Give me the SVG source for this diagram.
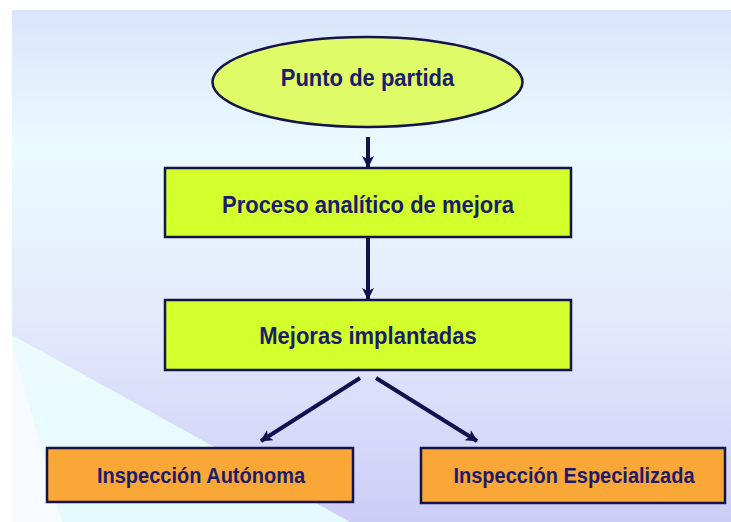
<svg xmlns="http://www.w3.org/2000/svg" width="731" height="522" viewBox="0 0 731 522">
<defs>
<linearGradient id="bg" x1="0" y1="10" x2="0" y2="522" gradientUnits="userSpaceOnUse">
<stop offset="0" stop-color="#dae4fb"/>
<stop offset="0.27" stop-color="#eafbfe"/>
<stop offset="0.6" stop-color="#e3eafc"/>
<stop offset="1" stop-color="#cccdf6"/>
</linearGradient>
<linearGradient id="tri" x1="0" y1="335" x2="0" y2="522" gradientUnits="userSpaceOnUse">
<stop offset="0" stop-color="#ecfbfe"/>
<stop offset="1" stop-color="#e4fafd"/>
</linearGradient>
<marker id="ah" markerUnits="userSpaceOnUse" markerWidth="14" markerHeight="14" refX="11" refY="6" orient="auto">
<path d="M0,0 L12,6 L0,12 L3,6 Z" fill="#11114d"/>
</marker>
<style>
.lbl{font-family:"Liberation Sans",Arial,sans-serif;font-weight:bold;fill:#1c1c6a;text-anchor:middle}
.big{font-size:22px}
.small{font-size:20px}
.green{fill:#d3ff2c;stroke:#14144a;stroke-width:2.5}
.orange{fill:#f9a737;stroke:#14144a;stroke-width:2.5}
.conn{stroke:#11114d;stroke-width:4;fill:none}
</style>
</defs>
<rect x="0" y="0" width="731" height="522" fill="#ffffff"/>
<rect x="12" y="10" width="719" height="512" fill="url(#bg)"/>
<polygon points="12,335 350,522 12,522" fill="url(#tri)"/>
<polygon points="12,345 62,522 12,522" fill="#f7fbff"/>
<g id="connectors">
<line class="conn" x1="368" y1="137" x2="368" y2="167" marker-end="url(#ah)"/>
<line class="conn" x1="368" y1="238" x2="368" y2="299" marker-end="url(#ah)"/>
<line class="conn" x1="360" y1="378" x2="261" y2="441" marker-end="url(#ah)"/>
<line class="conn" x1="376" y1="378" x2="477" y2="441" marker-end="url(#ah)"/>
</g>
<g id="node-punto">
<ellipse cx="367.5" cy="82" rx="155" ry="45" fill="#dffb68" stroke="#14144a" stroke-width="2.5"/>
<text class="lbl big" transform="translate(367.5,86) scale(1,1.1)">Punto de partida</text>
</g>
<g id="node-proceso">
<rect class="green" x="165" y="168" width="406" height="69"/>
<text class="lbl big" transform="translate(368,213) scale(1,1.1)">Proceso analítico de mejora</text>
</g>
<g id="node-mejoras">
<rect class="green" x="165" y="300" width="406" height="70"/>
<text class="lbl big" transform="translate(368,344) scale(1,1.1)">Mejoras implantadas</text>
</g>
<g id="node-autonoma">
<rect class="orange" x="47" y="448" width="306" height="54"/>
<text class="lbl small" transform="translate(201,483) scale(1,1.1)">Inspección Autónoma</text>
</g>
<g id="node-especializada">
<rect class="orange" x="421" y="448" width="304" height="55"/>
<text class="lbl small" transform="translate(574,483) scale(1,1.1)">Inspección Especializada</text>
</g>
</svg>
